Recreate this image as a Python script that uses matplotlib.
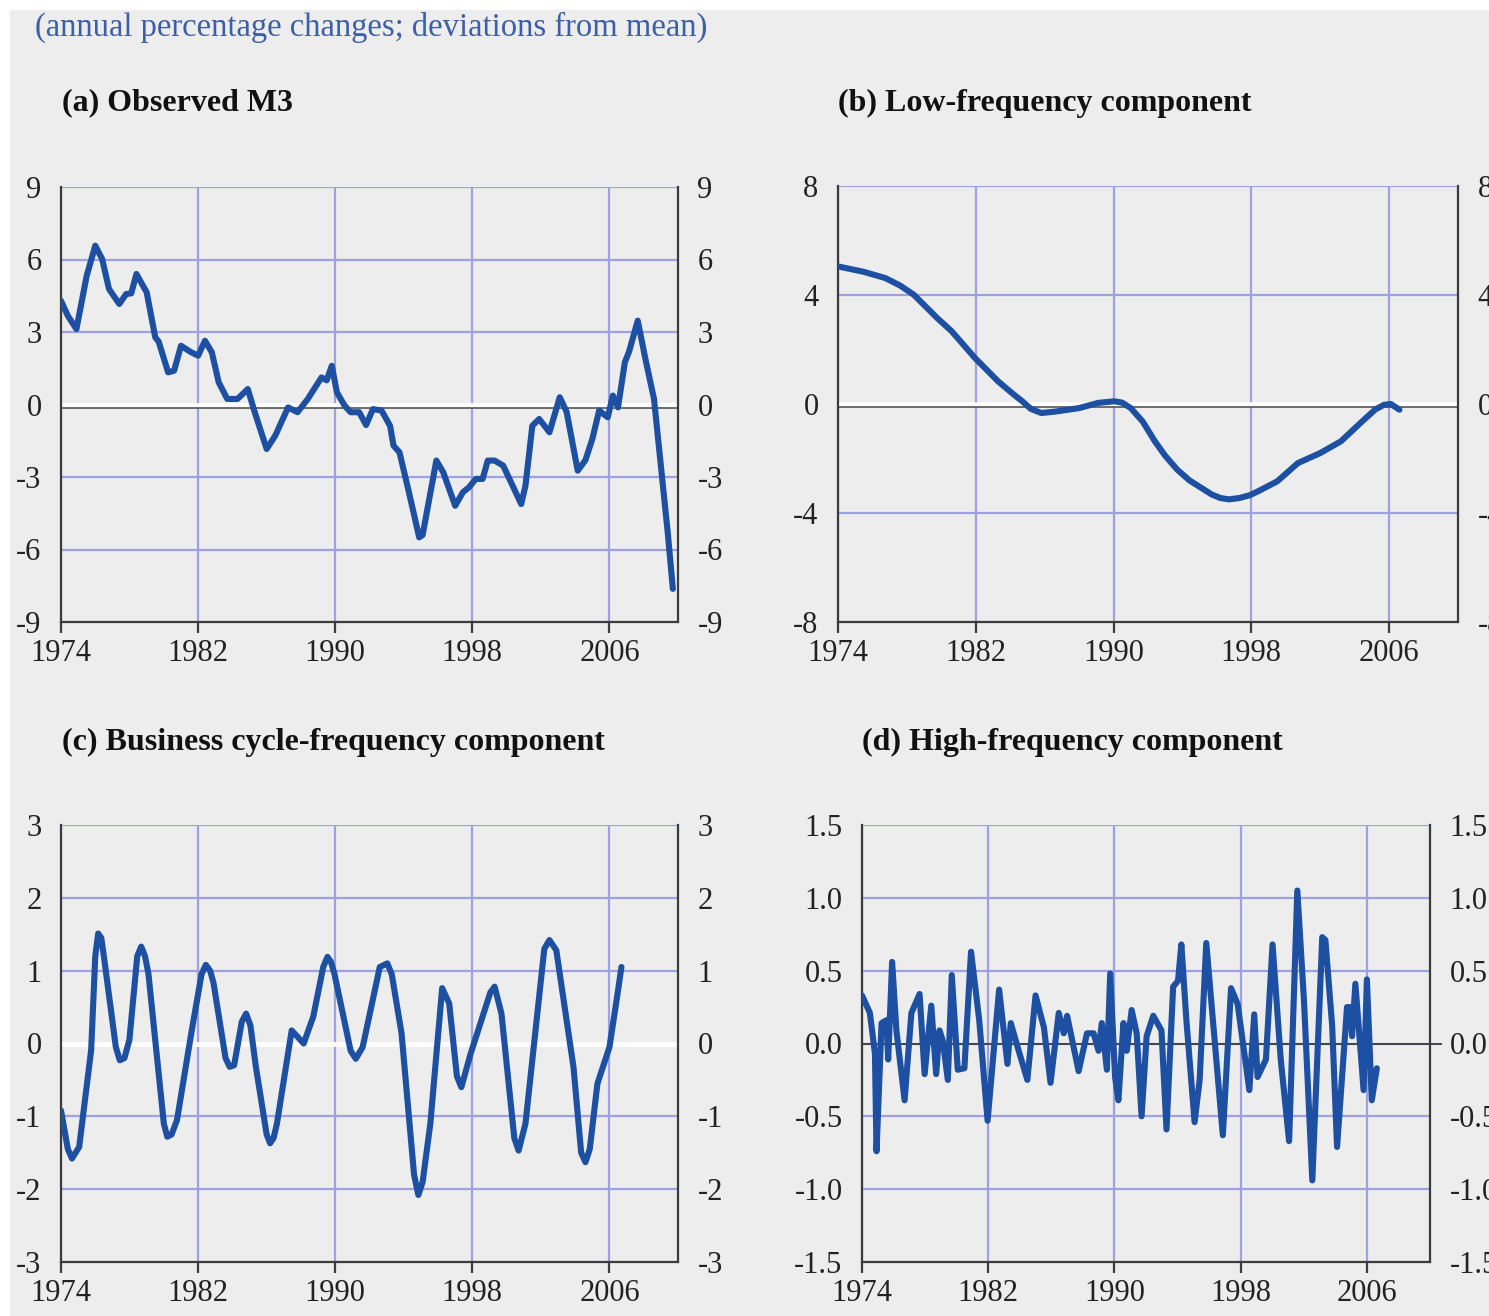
import matplotlib
matplotlib.use('Agg')
import matplotlib.pyplot as plt
from matplotlib.patches import Rectangle
from matplotlib.transforms import ScaledTranslation

plt.rcParams['font.family'] = ['Liberation Serif', 'DejaVu Serif']

W, H = 1489, 1316

header = '(annual percentage changes; deviations from mean)'
titles = ['(a) Observed M3', '(b) Low-frequency component',
          '(c) Business cycle-frequency component', '(d) High-frequency component']
x_ticks = [1974, 1982, 1990, 1998, 2006]

# (a) observed M3
a_years = [1974.0, 1974.4, 1974.9, 1975.5, 1976.0, 1976.4, 1976.8, 1977.4, 1977.8, 1978.1,
           1978.4, 1979.0, 1979.5, 1979.7, 1980.25, 1980.6, 1981.0, 1981.6, 1982.0, 1982.4,
           1982.8, 1983.2, 1983.7, 1984.3, 1984.9, 1985.3, 1986.0, 1986.5, 1987.25, 1987.8,
           1988.4, 1989.2, 1989.5, 1989.8, 1990.1, 1990.55, 1990.9, 1991.4, 1991.8, 1992.2,
           1992.7, 1993.2, 1993.4, 1993.75, 1994.3, 1994.9, 1995.1, 1995.9, 1996.3, 1997.0,
           1997.45, 1997.8, 1998.2, 1998.6, 1998.9, 1999.3, 1999.8, 2000.35, 2000.85, 2001.1,
           2001.5, 2001.9, 2002.5, 2003.1, 2003.5, 2004.15, 2004.6, 2005.0, 2005.4, 2005.9,
           2006.2, 2006.5, 2006.9, 2007.15, 2007.65, 2008.1, 2008.6, 2009.0, 2009.4, 2009.7]
a_vals = [4.29, 3.67, 3.12, 5.33, 6.57, 6.02, 4.78, 4.16, 4.57, 4.6,
          5.4, 4.64, 2.78, 2.6, 1.33, 1.4, 2.43, 2.16, 2.02, 2.64,
          2.16, 0.92, 0.23, 0.23, 0.64, -0.31, -1.84, -1.29, -0.12, -0.32,
          0.23, 1.12, 1.0, 1.6, 0.5, -0.05, -0.32, -0.32, -0.85, -0.19,
          -0.25, -0.88, -1.7, -1.98, -3.63, -5.5, -5.4, -2.32, -2.8, -4.19,
          -3.63, -3.43, -3.08, -3.08, -2.32, -2.32, -2.53, -3.36, -4.12, -3.36,
          -0.88, -0.6, -1.15, 0.3, -0.3, -2.74, -2.3, -1.43, -0.25, -0.53,
          0.37, -0.12, 1.75, 2.2, 3.47, 1.88, 0.23, -2.53, -5.29, -7.63]

# (b) low-frequency component
b_years = [1974.0, 1975.5, 1976.75, 1977.6, 1978.4, 1979.75, 1980.6, 1981.95, 1983.3, 1984.2,
           1984.7, 1985.2, 1985.8, 1986.6, 1988.0, 1989.1, 1990.05, 1990.5, 1991.0, 1991.7,
           1992.4, 1993.0, 1993.7, 1994.4, 1995.1, 1995.7, 1996.2, 1996.7, 1997.3, 1997.9,
           1998.4, 1999.5, 2000.7, 2002.0, 2003.2, 2004.45, 2005.2, 2005.7, 2006.1, 2006.6]
b_vals = [5.05, 4.85, 4.62, 4.35, 4.01, 3.16, 2.67, 1.69, 0.83, 0.35,
          0.1, -0.18, -0.33, -0.28, -0.15, 0.04, 0.1, 0.05, -0.15, -0.65,
          -1.37, -1.9, -2.41, -2.8, -3.08, -3.32, -3.45, -3.5, -3.45, -3.35,
          -3.2, -2.84, -2.17, -1.8, -1.37, -0.63, -0.2, -0.03, 0.0, -0.21]

# (c) business cycle-frequency component
c_years = [1974.0, 1974.4, 1974.64, 1974.85, 1975.06, 1975.76, 1976.0, 1976.17, 1976.35, 1976.5,
           1977.2, 1977.43, 1977.7, 1977.99, 1978.45, 1978.68, 1978.9, 1979.1, 1980.0, 1980.2,
           1980.45, 1980.77, 1981.6, 1982.2, 1982.45, 1982.7, 1982.9, 1983.6, 1983.84, 1984.1,
           1984.55, 1984.8, 1985.05, 1985.37, 1986.0, 1986.2, 1986.4, 1986.6, 1987.46, 1988.16,
           1988.72, 1989.3, 1989.55, 1989.75, 1989.95, 1990.9, 1991.2, 1991.6, 1992.6, 1993.04,
           1993.3, 1993.87, 1994.6, 1994.85, 1995.1, 1995.55, 1996.24, 1996.65, 1997.1, 1997.36,
           1997.9, 1999.05, 1999.3, 1999.7, 2000.45, 2000.7, 2001.1, 2002.2, 2002.5, 2002.9,
           2003.9, 2004.35, 2004.6, 2004.85, 2005.3, 2006.0, 2006.42, 2006.7]
c_vals = [-0.92, -1.45, -1.58, -1.5, -1.42, -0.09, 1.2, 1.51, 1.45, 1.2,
          -0.05, -0.23, -0.2, 0.05, 1.2, 1.33, 1.2, 0.96, -1.1, -1.28,
          -1.25, -1.05, 0.14, 0.95, 1.08, 1.0, 0.83, -0.2, -0.32, -0.3,
          0.3, 0.41, 0.25, -0.32, -1.25, -1.37, -1.3, -1.1, 0.18, 0.0,
          0.37, 1.05, 1.19, 1.12, 0.96, -0.1, -0.21, -0.05, 1.05, 1.1,
          0.95, 0.14, -1.8, -2.08, -1.9, -1.1, 0.76, 0.55, -0.45, -0.6,
          -0.14, 0.7, 0.78, 0.41, -1.3, -1.47, -1.1, 1.3, 1.42, 1.28,
          -0.32, -1.5, -1.63, -1.45, -0.55, -0.05, 0.6, 1.05]

# (d) high-frequency component
d_years = [1974.0, 1974.5, 1974.82, 1974.92, 1975.24, 1975.55, 1975.66, 1975.91, 1976.18, 1976.7,
           1977.13, 1977.65, 1977.97, 1978.39, 1978.7, 1978.91, 1979.12, 1979.44, 1979.69, 1980.07,
           1980.49, 1980.91, 1981.43, 1981.96, 1982.69, 1983.22, 1983.43, 1983.85, 1984.48, 1985.0,
           1985.53, 1985.95, 1986.47, 1986.79, 1987.0, 1987.73, 1988.26, 1988.68, 1988.99, 1989.2,
           1989.52, 1989.73, 1990.04, 1990.25, 1990.57, 1990.78, 1991.09, 1991.41, 1991.72, 1992.04,
           1992.46, 1992.98, 1993.3, 1993.72, 1994.03, 1994.24, 1994.56, 1995.08, 1995.4, 1995.82,
           1996.24, 1996.87, 1997.39, 1997.81, 1998.55, 1998.86, 1999.07, 1999.6, 2000.02, 2000.54,
           2001.07, 2001.59, 2002.01, 2002.54, 2003.17, 2003.37, 2003.8, 2004.11, 2004.74, 2004.95,
           2005.06, 2005.27, 2005.79, 2006.0, 2006.31, 2006.63]
d_vals = [0.33, 0.21, -0.07, -0.74, 0.14, 0.16, -0.11, 0.56, 0.09, -0.39,
          0.21, 0.34, -0.21, 0.26, -0.21, 0.09, 0.02, -0.25, 0.47, -0.18,
          -0.17, 0.63, 0.16, -0.53, 0.37, -0.14, 0.14, -0.02, -0.25, 0.33,
          0.11, -0.27, 0.21, 0.07, 0.19, -0.19, 0.07, 0.07, -0.05, 0.14,
          -0.18, 0.48, -0.23, -0.39, 0.14, -0.05, 0.23, 0.07, -0.5, 0.05,
          0.19, 0.09, -0.59, 0.39, 0.43, 0.68, 0.16, -0.54, -0.25, 0.69,
          0.16, -0.63, 0.38, 0.27, -0.32, 0.2, -0.23, -0.11, 0.68, -0.11,
          -0.67, 1.05, 0.3, -0.94, 0.73, 0.71, 0.12, -0.71, 0.25, 0.25,
          0.05, 0.41, -0.32, 0.44, -0.39, -0.17]

panels = [
    (a_years, a_vals, (-9, 9), [-9, -6, -3, 0, 3, 6, 9], ['-9', '-6', '-3', '0', '3', '6', '9']),
    (b_years, b_vals, (-8, 8), [-8, -4, 0, 4, 8], ['-8', '-4', '0', '4', '8']),
    (c_years, c_vals, (-3, 3), [-3, -2, -1, 0, 1, 2, 3], ['-3', '-2', '-1', '0', '1', '2', '3']),
    (d_years, d_vals, (-1.5, 1.5), [-1.5, -1.0, -0.5, 0.0, 0.5, 1.0, 1.5],
     ['-1.5', '-1.0', '-0.5', '0.0', '0.5', '1.0', '1.5']),
]

# pixel boxes: left, right, top, bottom
boxes = [(61, 678, 187, 622), (838, 1458, 186, 622), (61, 678, 825, 1262), (862, 1430, 825, 1262)]
title_pos = [(62, 103), (838, 103), (62, 742), (862, 742)]

bg = '#ededed'
grid_c = '#9da0e2'
line_c = '#1d50a2'
axis_c = '#3c3c3c'

fig = plt.figure(figsize=(W / 100, H / 100), dpi=100, facecolor='white')
fig.patches.append(Rectangle((10 / W, 0), 1, 1 - 10 / H, transform=fig.transFigure,
                             facecolor=bg, edgecolor='none', zorder=-10))

fig.text(35 / W, 1 - 27 / H, header, color='#3d5ea8', fontsize=23.5, va='center', ha='left')

for i, (xs, ys, ylim, yt, ytl) in enumerate(panels):
    l, r, t, b = boxes[i]
    ax = fig.add_axes([l / W, 1 - b / H, (r - l) / W, (b - t) / H])
    ax.set_facecolor(bg)
    ax.set_xlim(1974, 2010)
    ax.set_ylim(*ylim)
    ax.set_xticks(x_ticks)
    ax.set_xticklabels([str(x) for x in x_ticks])
    ax.set_yticks(yt)
    ax.set_yticklabels(ytl)
    ax.grid(True, color=grid_c, linewidth=1.6, zorder=0)
    ax.set_axisbelow(True)
    for s in ['left', 'right', 'bottom']:
        ax.spines[s].set_color(axis_c)
        ax.spines[s].set_linewidth(1.6)
    ax.spines['top'].set_visible(False)
    ax.tick_params(axis='y', length=0, labelsize=22, pad=14, labelright=True, right=True,
                   labelcolor='#222222')
    ax.tick_params(axis='x', direction='out', length=8, width=1.6, color=axis_c,
                   labelsize=22, pad=4, labelcolor='#222222')

    if i in (0, 1):
        ax.axhline(0, color='white', linewidth=3.5, zorder=1)
        dark = ax.axhline(0, color='#555555', linewidth=1.2, zorder=1)
        dark.set_transform(ax.get_yaxis_transform() +
                           ScaledTranslation(0, -2.5 / 72, fig.dpi_scale_trans))
    elif i == 2:
        ax.axhline(0, color='white', linewidth=3.5, zorder=1)
    else:
        ax.axhline(0, xmax=1.02, color='#444444', linewidth=1.4, zorder=1, clip_on=False)

    ax.plot(xs, ys, color=line_c, linewidth=4.4, solid_joinstyle='round',
            solid_capstyle='round', zorder=3)

    tx, ty = title_pos[i]
    fig.text(tx / W, 1 - ty / H, titles[i], fontsize=23, fontweight='bold',
             va='center', ha='left', color='#111111')

fig.savefig('out.png', dpi=100, facecolor=fig.get_facecolor())
